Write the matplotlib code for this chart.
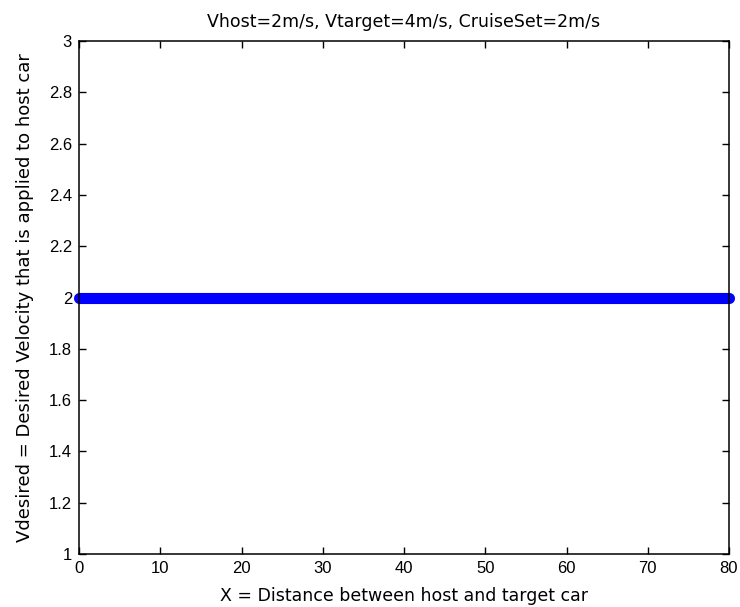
import matplotlib
matplotlib.use("Agg")
import matplotlib.pyplot as plt
from matplotlib import font_manager

# Desired velocity applied to the host car vs. distance to the target car
distance = [0, 5, 10, 15, 20, 25, 30, 35, 40, 45, 50, 55, 60, 65, 70, 75, 80]
v_desired = [2, 2, 2, 2, 2, 2, 2, 2, 2, 2, 2, 2, 2, 2, 2, 2, 2]

x_ticks = [0, 10, 20, 30, 40, 50, 60, 70, 80]
y_ticks = [1, 1.2, 1.4, 1.6, 1.8, 2, 2.2, 2.4, 2.6, 2.8, 3]
y_tick_labels = ["1", "1.2", "1.4", "1.6", "1.8", "2", "2.2", "2.4", "2.6", "2.8", "3"]

installed = {f.name for f in font_manager.fontManager.ttflist}
tick_family = 'Liberation Sans Narrow' if 'Liberation Sans Narrow' in installed else 'Liberation Sans'
label_family = 'DejaVu Sans'

fig = plt.figure(figsize=(7.4, 6.07), dpi=100)
ax = fig.add_axes([79 / 740, 53 / 607, 650 / 740, 513 / 607])

ax.plot(distance, v_desired, color='#0000ff', linewidth=8.0, solid_capstyle='round',
        clip_on=False)

ax.set_xlim(0, 80)
ax.set_ylim(1, 3)
ax.set_xticks(x_ticks)
ax.set_yticks(y_ticks)
ax.set_yticklabels(y_tick_labels)

ax.tick_params(direction='in', length=4.7, width=1, top=True, right=True,
               labelsize=12, pad=5)
for lab in ax.get_xticklabels() + ax.get_yticklabels():
    lab.set_family(tick_family)
for s in ax.spines.values():
    s.set_linewidth(1.1)

ax.set_title("Vhost=2m/s, Vtarget=4m/s, CruiseSet=2m/s", fontsize=12.5,
             family=label_family, pad=10)
ax.set_xlabel("X = Distance between host and target car", fontsize=12.5,
              family=label_family, labelpad=8)
ax.set_ylabel("Vdesired = Desired Velocity that is applied to host car", fontsize=13,
              family=label_family, labelpad=11)

fig.savefig("out.png", dpi=100)
